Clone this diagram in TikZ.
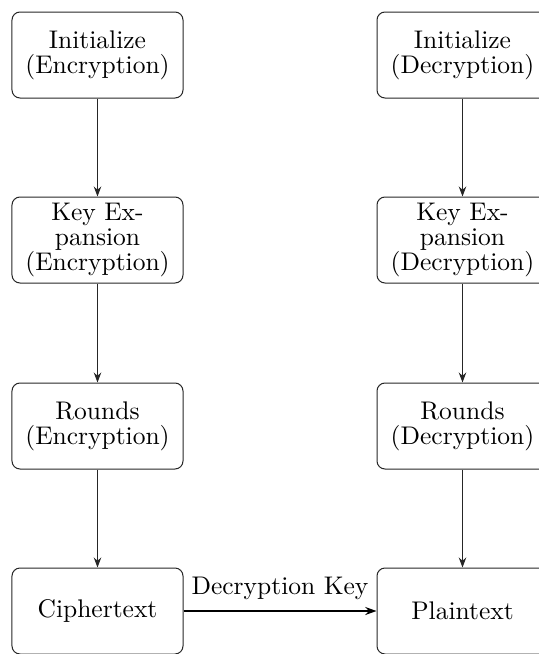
\documentclass[tikz,border=0pt]{standalone}
\usetikzlibrary{arrows.meta}
\begin{document}
\begin{tikzpicture}[x=0.4pt,y=-0.4pt,
  box/.style={draw=black!85, rounded corners=3.2pt, minimum width=68.4pt, minimum height=34.4pt,
    inner sep=0pt, align=center, font=\fontsize{10.2pt}{10pt}\selectfont},
  flow/.style={draw=black!85, -{Stealth[length=4pt,width=3pt]}},
  keyflow/.style={draw=black, semithick, -{Stealth[length=4.5pt,width=3.2pt]}}]
\useasboundingbox (0,0) rectangle (539,654);
\node[box] (ie) at (97.5,55) {Initialize\\(Encryption)};
\node[box] (ke) at (97.5,240) {Key Ex-\\pansion\\(Encryption)};
\node[box] (re) at (97.5,426) {Rounds\\(Encryption)};
\node[box] (ce) at (97.5,611) {Ciphertext};
\node[box] (id) at (462.5,55) {Initialize\\(Decryption)};
\node[box] (kd) at (462.5,240) {Key Ex-\\pansion\\(Decryption)};
\node[box] (rd) at (462.5,426) {Rounds\\(Decryption)};
\node[box] (pd) at (462.5,611) {Plaintext};
\draw[flow] (ie) -- (ke);
\draw[flow] (ke) -- (re);
\draw[flow] (re) -- (ce);
\draw[flow] (id) -- (kd);
\draw[flow] (kd) -- (rd);
\draw[flow] (rd) -- (pd);
\draw[keyflow] (ce) -- node[above, font=\fontsize{10.2pt}{10pt}\selectfont, yshift=1pt] (lbl) {Decryption Key} (pd);
\end{tikzpicture}
\end{document}
